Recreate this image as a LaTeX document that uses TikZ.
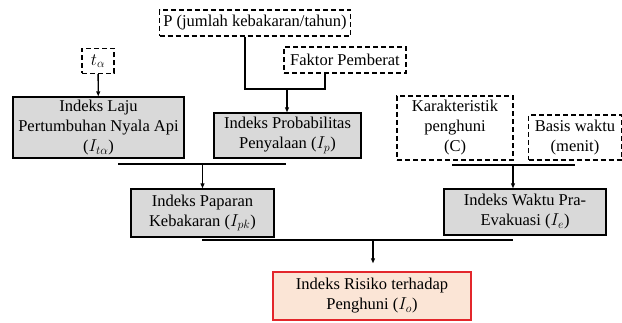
\documentclass[tikz,border=0pt]{standalone}
\usepackage{fontspec}
\setmainfont{Liberation Serif}
\usetikzlibrary{arrows.meta,positioning}
\definecolor{boxgray}{HTML}{D9D9D9}
\definecolor{riskfill}{HTML}{FBE5D6}
\definecolor{riskline}{HTML}{E3262B}

\begin{document}
\begin{tikzpicture}[x=1pt, y=-1pt,
    >={Triangle[angle=45:5pt,length=5pt]},
    base/.style={draw, line width=1.3pt, align=center, inner sep=1pt,
      font=\fontsize{16.5}{20}\selectfont},
    proc/.style={base, fill=boxgray},
    input/.style={base, dashed, dash pattern=on 5pt off 3pt},
    result/.style={base, draw=riskline, fill=riskfill}]
  \useasboundingbox (0,0) rectangle (622,323);
  % inputs
  \node[input, minimum width=191pt, minimum height=26pt] (jumlah) at (255,23) {P (jumlah kebakaran/tahun)};
  \node[input, minimum width=32pt, minimum height=25pt] (talpha) at (98,61) {$t_\alpha$};
  \node[input, minimum width=122pt, minimum height=26pt] (faktor) at (345,60) {Faktor Pemberat};
  \node[input, minimum width=116pt, minimum height=64pt] (karakter) at (455,128) {Karakteristik\\penghuni\\(C)};
  \node[input, minimum width=93pt, minimum height=45pt] (basis) at (575,137.5) {Basis waktu\\(menit)};
  % indices
  \node[proc, minimum width=171pt, minimum height=61pt] (laju) at (98.5,127.5) {Indeks Laju\\Pertumbuhan Nyala Api\\($I_{t\alpha}$)};
  \node[proc, minimum width=147pt, minimum height=45pt] (prob) at (287.5,135.5) {Indeks Probabilitas\\Penyalaan ($I_p$)};
  \node[proc, minimum width=143pt, minimum height=48pt] (paparan) at (202.5,213) {Indeks Paparan\\Kebakaran ($I_{pk}$)};
  \node[proc, minimum width=162pt, minimum height=46pt] (waktu) at (525,212) {Indeks Waktu Pra-\\Evakuasi ($I_e$)};
  \node[result, minimum width=198pt, minimum height=48pt] (risiko) at (372,296) {Indeks Risiko terhadap\\Penghuni ($I_o$)};

  % joins
  \coordinate (jprob) at (287,89);
  \coordinate (bar1l) at (118,164);
  \coordinate (bar1r) at (286,164);
  \coordinate (bar2l) at (452,165);
  \coordinate (bar2r) at (575,165);
  \coordinate (bar2m) at (513,165);
  \coordinate (bar3l) at (202,240);
  \coordinate (bar3r) at (513,240);
  \coordinate (bar3m) at (373,240);

  \begin{scope}[line width=1.3pt]
    \draw[->] (talpha) -- (laju);
    \draw ([xshift=-10pt]jumlah.south) |- (jprob);
    \draw ([xshift=-20pt]faktor.south) |- (jprob);
    \draw[->] (jprob) -- (jprob |- prob.north);
    \draw (bar1l) -- (bar1r);
    \draw[->] (bar1l -| paparan) -- (paparan);
    \draw (bar2l) -- (bar2r);
    \draw[->] (bar2m) -- (bar2m |- waktu.north);
    \draw (bar3l) -- (bar3r);
    \draw[->, shorten >=8pt] (bar3m) -- (bar3m |- risiko.north);
  \end{scope}
\end{tikzpicture}
\end{document}
